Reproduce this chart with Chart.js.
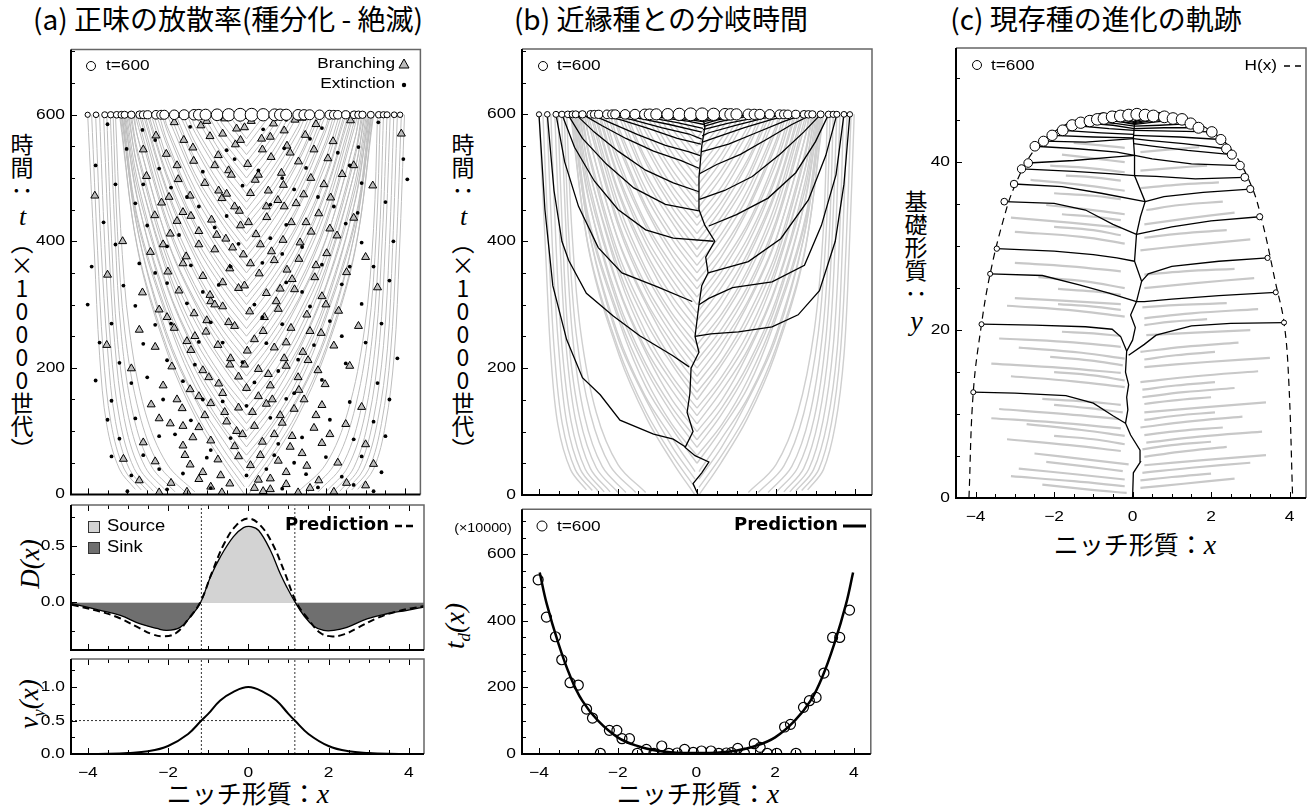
<!DOCTYPE html>
<html>
<head>
<meta charset="utf-8">
<script src="https://cdn.jsdelivr.net/npm/chart.js"></script>
<style>
body { margin: 0; background: #fff; width: 1315px; height: 809px; position: relative; overflow: hidden; }
canvas { position: absolute; }
.t { position: absolute; white-space: nowrap; color: #000; line-height: 1.2; }
.title { font-family: 'Noto Sans CJK JP', sans-serif; font-size: 28px; top: 2px; transform: translateX(-50%); }
.vlab { font-family: 'Noto Sans CJK JP', sans-serif; font-size: 23px; writing-mode: vertical-rl; text-orientation: upright; line-height: 1; }
.xlab { font-family: 'Noto Sans CJK JP', sans-serif; font-size: 25px; transform: translate(-50%, -50%); }
.m { font-family: 'Liberation Serif', serif; font-style: italic; }
.rot { font-family: 'Liberation Serif', serif; font-style: italic; font-size: 27px; transform: translate(-50%, -50%) rotate(-90deg); }
</style>
</head>
<body>
<div class="t title" style="left:228px">(a) 正味の放散率(種分化 - 絶滅)</div>
<div class="t title" style="left:661px">(b) 近縁種との分岐時間</div>
<div class="t title" style="left:1096px">(c) 現存種の進化の軌跡</div>

<div class="t vlab" style="left:9px;top:133px">時間：<span class="m" style="font-size:26px">t</span>（×10000世代）</div>
<div class="t vlab" style="left:450px;top:133px">時間：<span class="m" style="font-size:26px">t</span>（×10000世代）</div>
<div class="t vlab" style="left:902px;top:190px">基礎形質：<span class="m" style="font-size:28px">y</span></div>

<div class="t rot" style="left:30px;top:564px">D(x)</div>
<div class="t rot" style="left:31px;top:704px">v<sub style="font-size:17px">y</sub>(x)</div>
<div class="t rot" style="left:457px;top:626px">t<sub style="font-size:17px">d</sub>(x)</div>

<div class="t xlab" style="left:248px;top:794px">ニッチ形質：<span class="m" style="font-size:28px">x</span></div>
<div class="t xlab" style="left:698px;top:794px">ニッチ形質：<span class="m" style="font-size:28px">x</span></div>
<div class="t xlab" style="left:1135px;top:545px">ニッチ形質：<span class="m" style="font-size:28px">x</span></div>

<canvas id="a1"></canvas>
<canvas id="a2"></canvas>
<canvas id="a3"></canvas>
<canvas id="b1"></canvas>
<canvas id="b2"></canvas>
<canvas id="c1"></canvas>

<script>
// ---- tick values ----
const xTickLabels = [-4, -2, 0, 2, 4];
const xMinor = [-4, -3.5, -3, -2.5, -2, -1.5, -1, -0.5, 0, 0.5, 1, 1.5, 2, 2.5, 3, 3.5, 4];
const tTickLabels = [0, 200, 400, 600];
const tMinor = [0, 50, 100, 150, 200, 250, 300, 350, 400, 450, 500, 550, 600, 650, 700];
const dTickLabels = [0.0, 0.5];
const dMinor = [-0.25, 0, 0.25, 0.5, 0.75];
const vTickLabels = [0.0, 0.5, 1.0];
const vMinor = [0, 0.25, 0.5, 0.75, 1.0, 1.25];
const tdTickLabels = [0, 200, 400, 600];
const tdMinor = [0, 50, 100, 150, 200, 250, 300, 350, 400, 450, 500, 550, 600, 650, 700];
const yTickLabels = [0, 20, 40];
const yMinor = [0, 5, 10, 15, 20, 25, 30, 35, 40, 45, 50];

// ---- species alive at t=600 (panels a, b) ----
const survivorX = [-4.0, -3.79, -3.57, -3.42, -3.27, -3.15, -3.07, -2.9, -2.69, -2.6, -2.49, -2.28, -2.15, -2.07,
  -1.82, -1.57, -1.32, -1.2, -1.03, -0.74, -0.45, -0.16, 0.13, 0.42, 0.71, 0.85, 1.0, 1.3, 1.45, 1.59, 1.84,
  2.09, 2.2, 2.3, 2.5, 2.71, 2.82, 2.92, 3.13, 3.33, 3.45, 3.54, 3.72, 3.87];

// ---- gray lineages (x, t) used in panels a and b ----
const grayLeft = [
  [[-2.8, 8], [-3.2, 40], [-3.52, 110], [-3.7, 220], [-3.83, 380], [-4.0, 600]],
  [[-2.65, 7], [-3.08, 40], [-3.41, 112], [-3.61, 225], [-3.75, 385], [-3.9, 600]],
  [[-2.5, 6], [-2.95, 40], [-3.3, 115], [-3.5, 230], [-3.66, 390], [-3.8, 600]],
  [[-2.35, 5], [-2.83, 41], [-3.19, 117], [-3.42, 235], [-3.57, 395], [-3.7, 600]],
  [[-2.2, 5], [-2.7, 42], [-3.08, 120], [-3.32, 240], [-3.47, 400], [-3.6, 600]],
  [[-2.0, 4], [-2.55, 43], [-2.97, 122], [-3.25, 245], [-3.4, 405], [-3.52, 600]],
  [[-1.8, 4], [-2.4, 45], [-2.85, 125], [-3.15, 250], [-3.31, 410], [-3.43, 600]],
  [[-1.55, 4], [-2.2, 46], [-2.7, 128], [-3.06, 255], [-3.25, 415], [-3.36, 600]],
  [[-1.3, 4], [-2.0, 48], [-2.55, 130], [-2.95, 260], [-3.17, 420], [-3.3, 600]],
  [[-0.05, 0], [-0.6, 50], [-1.27, 120], [-1.97, 220], [-2.72, 380], [-3.2, 600]],
  [[-0.05, 12], [-0.62, 62], [-1.3, 132], [-2.0, 232], [-2.75, 392], [-3.18, 600]],
  [[-0.05, 25], [-0.62, 75], [-1.25, 145], [-1.99, 245], [-2.7, 405], [-3.16, 600]],
  [[-0.05, 37], [-0.6, 87], [-1.32, 157], [-2.02, 257], [-2.74, 417], [-3.14, 600]],
  [[0, 50], [-0.58, 100], [-1.29, 170], [-1.95, 270], [-2.74, 430], [-3.13, 600]],
  [[0, 62], [-0.64, 112], [-1.29, 182], [-1.98, 282], [-2.76, 442], [-3.1, 600]],
  [[0, 75], [-0.6, 125], [-1.27, 195], [-1.98, 295], [-2.7, 455], [-3.09, 600]],
  [[0, 87], [-0.62, 137], [-1.3, 207], [-2.0, 307], [-2.75, 467], [-3.07, 600]],
  [[0, 100], [-0.63, 150], [-1.26, 220], [-1.96, 320], [-2.73, 480], [-3.05, 600]],
  [[0, 112], [-0.6, 162], [-1.31, 232], [-2.01, 332], [-2.73, 492], [-3.02, 600]],
  [[0, 125], [-0.6, 175], [-1.3, 245], [-1.97, 345], [-2.7, 505], [-2.99, 600]],
  [[0, 137], [-0.63, 187], [-1.3, 257], [-1.99, 357], [-2.75, 517], [-2.96, 600]],
  [[0, 150], [-0.57, 200], [-1.27, 270], [-1.99, 370], [-2.72, 530], [-2.93, 600]],
  [[0, 162], [-0.62, 212], [-1.28, 282], [-2.0, 382], [-2.74, 542], [-2.9, 600]],
  [[0, 175], [-0.6, 225], [-1.24, 295], [-1.96, 395], [-2.7, 555], [-2.86, 600]],
  [[0, 187], [-0.6, 237], [-1.3, 307], [-2.02, 407], [-2.75, 567], [-2.83, 600]],
  [[0, 200], [-0.61, 250], [-1.28, 320], [-1.97, 420], [-2.72, 580], [-2.8, 600]],
  [[0, 212], [-0.62, 262], [-1.31, 332], [-2.0, 432], [-2.76, 600]],
  [[0, 225], [-0.6, 275], [-1.27, 345], [-1.98, 445], [-2.7, 600]],
  [[0, 237], [-0.64, 287], [-1.3, 357], [-1.98, 457], [-2.66, 600]],
  [[0, 250], [-0.62, 300], [-1.26, 370], [-1.96, 470], [-2.6, 600]],
  [[0, 262], [-0.62, 312], [-1.29, 382], [-2.0, 482], [-2.56, 600]],
  [[0, 275], [-0.59, 325], [-1.28, 395], [-1.97, 495], [-2.5, 600]],
  [[0, 287], [-0.6, 337], [-1.3, 407], [-2.01, 507], [-2.46, 600]],
  [[0, 300], [-0.6, 350], [-1.27, 420], [-1.99, 520], [-2.4, 600]],
  [[0, 312], [-0.62, 362], [-1.32, 432], [-2.0, 532], [-2.34, 600]],
  [[0, 325], [-0.61, 375], [-1.25, 445], [-1.96, 545], [-2.27, 600]],
  [[0, 337], [-0.63, 387], [-1.3, 457], [-1.99, 557], [-2.2, 600]],
  [[0, 350], [-0.6, 400], [-1.28, 470], [-1.97, 570], [-2.13, 600]],
  [[0, 362], [-0.62, 412], [-1.29, 482], [-2.0, 582], [-2.07, 600]],
  [[0, 375], [-0.58, 425], [-1.27, 495], [-2.0, 600]],
  [[0, 387], [-0.6, 437], [-1.3, 507], [-1.92, 600]],
  [[0, 400], [-0.6, 450], [-1.26, 520], [-1.85, 600]],
  [[0, 412], [-0.62, 462], [-1.31, 532], [-1.78, 600]],
  [[0, 425], [-0.62, 475], [-1.27, 545], [-1.68, 600]],
  [[0, 437], [-0.63, 487], [-1.3, 557], [-1.6, 600]],
  [[0, 450], [-0.6, 500], [-1.28, 570], [-1.5, 600]],
  [[0, 462], [-0.62, 512], [-1.3, 582], [-1.4, 600]],
  [[0, 475], [-0.6, 525], [-1.3, 600]],
  [[0, 487], [-0.61, 537], [-1.2, 600]],
  [[0, 500], [-0.61, 550], [-1.1, 600]],
  [[0, 512], [-0.62, 562], [-0.97, 600]],
  [[0, 525], [-0.6, 575], [-0.85, 600]],
  [[0, 537], [-0.62, 587], [-0.72, 600]],
  [[0, 550], [-0.6, 600]],
  [[0, 562], [-0.45, 600]],
  [[0, 575], [-0.3, 600]]
];
const grayRight = [
  [[2.8, 8], [3.2, 40], [3.5, 110], [3.72, 220], [3.85, 380], [3.98, 600]],
  [[2.65, 7], [3.08, 40], [3.4, 112], [3.63, 225], [3.77, 385], [3.9, 600]],
  [[2.5, 6], [2.95, 40], [3.3, 115], [3.55, 230], [3.68, 390], [3.8, 600]],
  [[2.35, 5], [2.83, 41], [3.19, 117], [3.45, 235], [3.6, 395], [3.71, 600]],
  [[2.2, 5], [2.7, 42], [3.08, 120], [3.35, 240], [3.5, 400], [3.62, 600]],
  [[2.0, 4], [2.55, 43], [2.97, 122], [3.26, 245], [3.42, 405], [3.54, 600]],
  [[1.8, 4], [2.4, 45], [2.85, 125], [3.17, 250], [3.35, 410], [3.45, 600]],
  [[1.55, 4], [2.2, 46], [2.7, 128], [3.07, 255], [3.27, 415], [3.37, 600]],
  [[1.3, 4], [2.0, 48], [2.55, 130], [2.97, 260], [3.2, 420], [3.3, 600]],
  [[0.05, 0], [0.6, 50], [1.27, 120], [1.97, 220], [2.72, 380], [3.2, 600]],
  [[0.05, 12], [0.62, 62], [1.3, 132], [2.0, 232], [2.75, 392], [3.18, 600]],
  [[0.05, 25], [0.62, 75], [1.25, 145], [1.99, 245], [2.7, 405], [3.16, 600]],
  [[0.05, 37], [0.6, 87], [1.32, 157], [2.02, 257], [2.74, 417], [3.14, 600]],
  [[0, 50], [0.58, 100], [1.29, 170], [1.95, 270], [2.74, 430], [3.13, 600]],
  [[0, 62], [0.64, 112], [1.29, 182], [1.98, 282], [2.76, 442], [3.1, 600]],
  [[0, 75], [0.6, 125], [1.27, 195], [1.98, 295], [2.7, 455], [3.09, 600]],
  [[0, 87], [0.62, 137], [1.3, 207], [2.0, 307], [2.75, 467], [3.07, 600]],
  [[0, 100], [0.63, 150], [1.26, 220], [1.96, 320], [2.73, 480], [3.05, 600]],
  [[0, 112], [0.6, 162], [1.31, 232], [2.01, 332], [2.73, 492], [3.02, 600]],
  [[0, 125], [0.6, 175], [1.3, 245], [1.97, 345], [2.7, 505], [2.99, 600]],
  [[0, 137], [0.63, 187], [1.3, 257], [1.99, 357], [2.75, 517], [2.96, 600]],
  [[0, 150], [0.57, 200], [1.27, 270], [1.99, 370], [2.72, 530], [2.93, 600]],
  [[0, 162], [0.62, 212], [1.28, 282], [2.0, 382], [2.74, 542], [2.9, 600]],
  [[0, 175], [0.6, 225], [1.24, 295], [1.96, 395], [2.7, 555], [2.86, 600]],
  [[0, 187], [0.6, 237], [1.3, 307], [2.02, 407], [2.75, 567], [2.83, 600]],
  [[0, 200], [0.61, 250], [1.28, 320], [1.97, 420], [2.72, 580], [2.8, 600]],
  [[0, 212], [0.62, 262], [1.31, 332], [2.0, 432], [2.76, 600]],
  [[0, 225], [0.6, 275], [1.27, 345], [1.98, 445], [2.7, 600]],
  [[0, 237], [0.64, 287], [1.3, 357], [1.98, 457], [2.66, 600]],
  [[0, 250], [0.62, 300], [1.26, 370], [1.96, 470], [2.6, 600]],
  [[0, 262], [0.62, 312], [1.29, 382], [2.0, 482], [2.56, 600]],
  [[0, 275], [0.59, 325], [1.28, 395], [1.97, 495], [2.5, 600]],
  [[0, 287], [0.6, 337], [1.3, 407], [2.01, 507], [2.46, 600]],
  [[0, 300], [0.6, 350], [1.27, 420], [1.99, 520], [2.4, 600]],
  [[0, 312], [0.62, 362], [1.32, 432], [2.0, 532], [2.34, 600]],
  [[0, 325], [0.61, 375], [1.25, 445], [1.96, 545], [2.27, 600]],
  [[0, 337], [0.63, 387], [1.3, 457], [1.99, 557], [2.2, 600]],
  [[0, 350], [0.6, 400], [1.28, 470], [1.97, 570], [2.13, 600]],
  [[0, 362], [0.62, 412], [1.29, 482], [2.0, 582], [2.07, 600]],
  [[0, 375], [0.58, 425], [1.27, 495], [2.0, 600]],
  [[0, 387], [0.6, 437], [1.3, 507], [1.92, 600]],
  [[0, 400], [0.6, 450], [1.26, 520], [1.85, 600]],
  [[0, 412], [0.62, 462], [1.31, 532], [1.78, 600]],
  [[0, 425], [0.62, 475], [1.27, 545], [1.68, 600]],
  [[0, 437], [0.63, 487], [1.3, 557], [1.6, 600]],
  [[0, 450], [0.6, 500], [1.28, 570], [1.5, 600]],
  [[0, 462], [0.62, 512], [1.3, 582], [1.4, 600]],
  [[0, 475], [0.6, 525], [1.3, 600]],
  [[0, 487], [0.61, 537], [1.2, 600]],
  [[0, 500], [0.61, 550], [1.1, 600]],
  [[0, 512], [0.62, 562], [0.97, 600]],
  [[0, 525], [0.6, 575], [0.85, 600]],
  [[0, 537], [0.62, 587], [0.72, 600]],
  [[0, 550], [0.6, 600]],
  [[0, 562], [0.45, 600]]
];

// ---- branching and extinction events (panel a) ----
const branchPts = [
  [-1.82, 588], [-1.15, 583], [-0.55, 594], [0.12, 590], [0.68, 586], [1.22, 592], [1.75, 585], [2.62, 591],
  [-2.28, 567], [-1.58, 560], [-0.92, 566], [-0.28, 553], [0.38, 562], [1.02, 551], [1.48, 568], [2.18, 558], [3.9, 570],
  [-2.02, 538], [-1.33, 527], [-0.71, 536], [0.03, 522], [0.62, 533], [1.31, 526], [2.05, 531], [-0.45, 512], [0.88, 508],
  [-2.52, 503], [-1.72, 498], [-1.05, 492], [-0.38, 505], [0.22, 497], [0.93, 489], [1.62, 500], [2.41, 506], [3.18, 488],
  [-1.42, 472], [-0.62, 468], [0.1, 476], [0.79, 465], [1.44, 474], [2.12, 469], [-2.14, 461], [-3.82, 472],
  [-2.31, 441], [-1.6, 446], [-0.88, 434], [-0.18, 448], [0.51, 438], [1.13, 430], [1.82, 444], [2.7, 437],
  [-1.92, 412], [-1.2, 416], [-0.52, 404], [0.24, 411], [0.92, 402], [1.63, 415], [2.28, 409], [-3.12, 400],
  [-2.42, 383], [-1.52, 376], [-0.8, 387], [-0.08, 379], [0.63, 384], [1.32, 372], [2.02, 381], [3.0, 375],
  [-1.98, 352], [-1.1, 345], [-0.42, 357], [0.32, 349], [1.02, 355], [1.72, 343], [2.52, 351], [-3.5, 347],
  [-1.7, 322], [-0.92, 315], [-0.2, 326], [0.5, 318], [1.21, 324], [1.9, 313], [-2.62, 319], [3.3, 327],
  [-2.2, 292], [-1.32, 286], [-0.6, 297], [0.08, 289], [0.8, 293], [1.52, 284], [2.32, 290],
  [-1.82, 263], [-1.02, 257], [-0.3, 266], [0.42, 258], [1.12, 263], [1.88, 255], [-2.7, 260], [2.82, 266],
  [-2.3, 233], [-1.4, 228], [-0.72, 236], [0.02, 227], [0.7, 232], [1.42, 225], [2.2, 235], [-3.52, 236],
  [-1.88, 202], [-1.1, 196], [-0.42, 205], [0.3, 198], [1.0, 203], [1.8, 196], [-2.9, 199], [2.6, 203],
  [-2.1, 172], [-1.42, 166], [-0.7, 175], [0.0, 168], [0.6, 172], [1.32, 165], [1.98, 174],
  [-2.4, 142], [-1.62, 136], [-0.9, 144], [-0.2, 137], [0.5, 143], [1.2, 135], [1.9, 141], [2.9, 138],
  [-1.92, 112], [-1.2, 106], [-0.5, 115], [0.2, 108], [0.9, 113], [1.7, 105], [2.5, 111],
  [-2.6, 82], [-1.6, 77], [-0.9, 85], [-0.3, 76], [0.4, 83], [1.1, 75], [1.9, 81], [3.0, 79],
  [-2.3, 52], [-1.42, 47], [-0.72, 55], [0.1, 46], [0.8, 53], [1.52, 45], [2.3, 50], [-3.1, 56], [3.2, 48],
  [-2.7, 22], [-1.9, 18], [-1.2, 24], [-0.42, 17], [0.3, 23], [1.0, 16], [1.82, 22], [2.52, 18], [3.0, 14],
  [-1.5, 4], [-0.62, 3], [0.42, 5], [1.3, 3], [2.2, 4], [-2.2, 3],
  [-0.25, 578], [0.4, 545], [-0.8, 520], [0.55, 480], [-0.3, 455], [1.5, 430], [-1.2, 395], [0.1, 365],
  [-0.6, 335], [0.75, 305], [-1.0, 275], [0.2, 245], [-0.4, 215], [1.3, 185], [-1.2, 155], [0.85, 125],
  [-0.1, 95], [1.4, 65], [-1.1, 35], [0.6, 8], [-0.15, 425], [0.35, 395], [-0.9, 305], [1.6, 258],
  [-1.6, 108], [0.65, 150], [-0.05, 330], [1.1, 540], [-1.35, 548], [0.95, 455], [-1.75, 432], [1.75, 362],
  [-1.5, 242], [1.55, 212], [-0.2, 186], [0.35, 62], [-0.55, 130], [1.15, 92],
  [-1.0, 590], [0.95, 575], [-0.15, 560], [1.7, 545], [-1.75, 520], [0.3, 505], [-0.7, 480], [1.25, 460],
  [-1.4, 440], [0.05, 430], [-0.35, 390], [0.7, 370], [-1.6, 365], [1.15, 340], [-0.8, 300], [0.45, 280],
  [-1.3, 250], [1.0, 240], [-0.05, 205], [-0.95, 185], [0.55, 190], [-1.75, 150], [1.45, 150], [0.15, 130],
  [-1.05, 125], [0.7, 95], [-1.35, 90], [-0.2, 60], [1.0, 35], [-0.65, 30], [0.2, 10], [-0.9, 12], [1.6, 10],
  [-2.0, 280], [2.0, 300], [-2.1, 395], [2.1, 420], [-1.95, 470], [1.95, 490], [-0.5, 475], [0.5, 455],
  [-0.75, 410], [1.35, 398], [0.85, 325], [-0.45, 272], [0.95, 215], [-0.6, 160], [0.3, 155], [-0.25, 100],
  [0.6, 25], [-1.55, 62], [1.75, 125], [-2.2, 120], [2.1, 95], [-0.05, 580], [0.6, 565], [-0.6, 570],
  [1.4, 595], [-2.6, 545], [2.7, 520]
];
const extinctPts = [
  [-3.5, 585], [-2.62, 576], [-1.42, 581], [0.42, 577], [1.9, 579], [3.32, 588], [-3.02, 546], [-0.5, 544],
  [0.95, 547], [2.82, 549], [4.05, 498], [3.95, 530], [-3.8, 520], [-2.2, 515], [-1.1, 510], [0.3, 512],
  [1.5, 516], [2.6, 520], [-3.3, 490], [-1.9, 485], [-0.1, 488], [1.2, 482], [2.9, 492], [-2.8, 460],
  [-1.2, 455], [0.6, 458], [2.2, 455], [3.5, 462], [-3.6, 430], [-2.5, 425], [-0.8, 422], [1.0, 426],
  [2.5, 428], [-3.3, 395], [-2.0, 392], [-0.2, 396], [1.4, 391], [2.9, 398], [3.7, 400], [-3.9, 360],
  [-2.7, 365], [-1.4, 362], [0.4, 366], [1.9, 363], [3.2, 360], [-3.1, 330], [-2.0, 334], [-0.7, 331],
  [1.0, 335], [2.4, 332], [3.6, 338], [-4.0, 300], [-2.8, 298], [-1.5, 302], [0.2, 300], [1.6, 297],
  [2.9, 301], [-3.4, 270], [-2.3, 268], [-0.9, 272], [0.9, 269], [2.1, 274], [3.4, 270], [-3.7, 240],
  [-2.6, 238], [-1.2, 241], [0.5, 239], [1.7, 236], [3.0, 240], [3.8, 215], [-3.2, 208], [-2.0, 212],
  [-0.1, 209], [1.3, 213], [2.5, 207], [-3.8, 180], [-2.9, 176], [-1.6, 179], [0.2, 177], [1.9, 181],
  [3.3, 176], [-3.4, 148], [-2.1, 150], [-0.6, 147], [1.0, 151], [2.6, 146], [3.6, 150], [-3.5, 118],
  [-2.8, 120], [-1.4, 117], [0.6, 121], [2.1, 118], [3.2, 115], [-3.2, 88], [-2.2, 92], [-0.4, 89],
  [1.4, 90], [2.7, 87], [3.5, 92], [-3.4, 60], [-2.6, 62], [-1.0, 58], [0.7, 62], [2.0, 59], [2.9, 60],
  [-2.9, 30], [-1.6, 33], [0.0, 30], [1.5, 32], [2.4, 28], [3.4, 35], [-2.0, 8], [-0.9, 10], [0.9, 9], [1.8, 11],
  [-1.7, 598], [0.0, 596], [1.0, 592], [-2.3, 560], [1.6, 562], [-0.3, 530], [2.3, 540], [-1.5, 470],
  [0.9, 500], [-2.6, 490], [1.8, 470], [-0.5, 440], [2.8, 445], [-1.7, 410], [0.6, 405], [-2.3, 350],
  [0.9, 380], [-0.4, 360], [1.4, 320], [-1.1, 320], [2.6, 360], [-1.9, 270], [0.4, 280], [-0.6, 240],
  [2.4, 250], [-1.3, 205], [0.8, 195], [-2.5, 185], [1.2, 160], [-1.1, 150], [0.0, 140], [-1.8, 95],
  [0.8, 80], [-0.9, 70], [1.2, 50], [-2.2, 40], [2.7, 15], [-3.0, 5], [3.2, 5], [0.5, 40]
];

// ---- net diversification D(x) and v_y(x) ----
const dX = [-4.4, -3.69, -3.19, -2.69, -2.28, -2.03, -1.7, -1.45, -1.2, -0.95, -0.7, -0.37, -0.12, 0.07, 0.26,
  0.55, 0.8, 0.96, 1.17, 1.38, 1.63, 1.88, 2.13, 2.46, 2.96, 3.46, 3.96, 4.4];
const dVal = [-0.01, -0.07, -0.115, -0.19, -0.23, -0.247, -0.22, -0.13, -0.01, 0.22, 0.4, 0.58, 0.66, 0.67, 0.635,
  0.46, 0.25, 0.135, 0.0, -0.115, -0.21, -0.247, -0.247, -0.22, -0.145, -0.1, -0.07, -0.04];
const dPredX = [-4.4, -3.7, -3.2, -2.7, -2.4, -2.1, -1.8, -1.5, -1.2, -0.9, -0.6, -0.3, 0, 0.3, 0.6, 0.9, 1.2,
  1.5, 1.8, 2.1, 2.4, 2.7, 3.2, 3.7, 4.4];
const dPred = [-0.02, -0.08, -0.14, -0.23, -0.28, -0.3, -0.27, -0.15, 0.0, 0.27, 0.52, 0.68, 0.74, 0.68, 0.52, 0.27,
  0.0, -0.15, -0.27, -0.3, -0.28, -0.23, -0.14, -0.08, -0.03];
const crossX = [-1.17, 1.16];
const vX = [-4.4, -3.5, -3.0, -2.5, -2.0, -1.5, -1.17, -1.0, -0.7, -0.37, 0, 0.37, 0.7, 1.0, 1.16, 1.5, 2.0, 2.5, 3.0, 3.5, 4.4];
const vVal = [0.0, 0.005, 0.015, 0.04, 0.12, 0.3, 0.5, 0.6, 0.8, 0.93, 1.0, 0.93, 0.8, 0.6, 0.5, 0.3, 0.12, 0.04, 0.015, 0.005, 0.0];

// ---- phylogeny of survivors (panel b) ----
const trunkB = [[0.03, 0], [-0.1, 18], [0.12, 35], [0.3, 52], [-0.05, 62], [-0.3, 75], [-0.1, 100], [-0.25, 130],
  [-0.18, 160], [-0.15, 200], [0.05, 225], [-0.05, 250], [0.05, 300], [0.12, 330], [0.28, 350], [0.22, 375],
  [0.45, 400], [0.2, 425], [0.05, 450], [0.05, 500], [0.12, 550], [0.2, 580], [0.13, 600]];
const lineagesB = [
  [[-4.0, 600], [-3.85, 450], [-3.65, 330], [-3.3, 245], [-2.9, 185], [-2.45, 158], [-1.95, 118], [-1.1, 96], [-0.6, 88], [-0.3, 76]],
  [[-3.79, 600], [-3.62, 480], [-3.42, 400], [-3.25, 370], [-2.8, 318], [-2.12, 282], [-1.45, 251], [-0.62, 220], [-0.2, 202]],
  [[-3.57, 600], [-3.35, 525], [-3.0, 455], [-2.5, 390], [-1.9, 350], [-1.0, 328], [-0.12, 305]],
  [[-3.42, 600], [-3.1, 548], [-2.6, 495], [-2.0, 450], [-1.3, 418], [-0.6, 405], [0.42, 400]],
  [[-3.27, 600], [-2.9, 562], [-2.3, 522], [-1.6, 484], [-0.8, 458], [0.05, 448]],
  [[-3.07, 600], [-2.6, 572], [-2.0, 542], [-1.3, 512], [-0.6, 492], [0.05, 478]],
  [[-2.9, 600], [-2.4, 582], [-1.8, 562], [-1.1, 542], [-0.4, 527], [0.05, 515]],
  [[-2.69, 600], [-2.2, 587], [-1.5, 568], [-0.8, 551], [-0.2, 541], [0.08, 535]],
  [[-2.49, 600], [-1.9, 591], [-1.2, 577], [-0.5, 562], [0.1, 553]],
  [[-2.28, 600], [-1.6, 591], [-0.9, 579], [-0.2, 569], [0.12, 561]],
  [[-2.07, 600], [-1.4, 593], [-0.7, 584], [0.12, 572]],
  [[-1.82, 600], [-1.2, 595], [-0.5, 587], [0.15, 578]],
  [[-1.57, 600], [-0.9, 595], [-0.2, 589], [0.18, 584]],
  [[-1.32, 600], [-0.6, 595], [0.2, 588]],
  [[-1.03, 600], [-0.4, 596], [0.2, 590]],
  [[-0.74, 600], [-0.2, 596], [0.2, 592]],
  [[-0.45, 600], [0.2, 594]],
  [[-0.16, 600], [0.15, 596]],
  [[3.87, 600], [3.72, 490], [3.5, 400], [3.1, 322], [2.56, 284], [1.9, 265], [1.05, 257], [0.35, 254], [-0.05, 250]],
  [[3.72, 600], [3.52, 505], [3.15, 425], [2.72, 362], [1.9, 336], [0.9, 327], [0.3, 310], [0.05, 300]],
  [[3.54, 600], [3.26, 535], [2.82, 465], [2.12, 404], [1.3, 368], [0.28, 350]],
  [[3.33, 600], [3.0, 557], [2.5, 508], [1.8, 468], [1.0, 442], [0.3, 424]],
  [[3.13, 600], [2.7, 572], [2.1, 537], [1.4, 502], [0.7, 480], [0.06, 466]],
  [[2.92, 600], [2.4, 584], [1.8, 562], [1.1, 537], [0.5, 521], [0.05, 506]],
  [[2.71, 600], [2.2, 589], [1.5, 571], [0.8, 553], [0.1, 541]],
  [[2.5, 600], [1.9, 592], [1.2, 579], [0.5, 564], [0.12, 556]],
  [[2.3, 600], [1.7, 594], [1.0, 583], [0.3, 571], [0.13, 566]],
  [[2.09, 600], [1.5, 595], [0.8, 586], [0.15, 576]],
  [[1.84, 600], [1.2, 596], [0.6, 589], [0.17, 581]],
  [[1.59, 600], [1.0, 597], [0.5, 591], [0.18, 585]],
  [[1.3, 600], [0.8, 597], [0.2, 589]],
  [[1.0, 600], [0.5, 597], [0.2, 591]],
  [[0.71, 600], [0.2, 595]],
  [[0.42, 600], [0.2, 597]]
];

// ---- divergence time t_d(x) at t=600 ----
const tdX = [-4.02, -3.81, -3.58, -3.42, -3.21, -3.0, -2.79, -2.64, -2.44, -2.21, -2.02, -1.89, -1.7, -1.5, -1.27,
  -1.08, -0.88, -0.7, -0.49, -0.3, -0.08, 0.13, 0.37, 0.57, 0.76, 0.89, 1.05, 1.22, 1.47, 1.62, 1.8, 2.04, 2.24,
  2.39, 2.53, 2.72, 2.87, 3.04, 3.24, 3.46, 3.64, 3.89];
const tdVal = [523, 411, 352, 283, 214, 207, 135, 108, 2, 71, 71, 46, 46, 2, 14, 2, 24, 2, 3, 14, 5, 9, 9, 2, 3,
  4, 17, 2, 31, 20, 2, 2, 81, 89, 2, 140, 160, 170, 243, 350, 350, 432];
const tdPredX = [-3.98, -3.8, -3.5, -3.2, -2.9, -2.5, -2.0, -1.5, -1.0, -0.5, 0, 0.5, 1.0, 1.5, 2.0, 2.5, 2.9, 3.2, 3.5, 3.8, 3.98];
const tdPred = [545, 450, 330, 232, 160, 100, 50, 24, 10, 4, 3, 4, 10, 24, 50, 100, 160, 232, 330, 450, 545];

// ---- panel c: survivors in (x, y) ----
const cTips = [[-4.06, 12.6], [-3.85, 20.7], [-3.63, 26.7], [-3.46, 29.7], [-3.27, 35.3], [-3.02, 37.4],
  [-2.83, 39.2], [-2.66, 39.9], [-2.49, 41.9], [-2.27, 42.5], [-2.05, 43.2], [-1.78, 43.8], [-1.54, 44.4],
  [-1.32, 44.7], [-1.09, 44.9], [-0.9, 45.1], [-0.73, 45.2], [-0.52, 45.4], [-0.31, 45.5], [-0.1, 45.6],
  [0.11, 45.7], [0.32, 45.6], [0.53, 45.5], [0.81, 45.4], [1.03, 45.2], [1.26, 45.1], [1.48, 44.6], [1.68, 44.1],
  [2.02, 43.6], [2.25, 42.7], [2.39, 41.6], [2.53, 40.9], [2.74, 39.6], [2.86, 38.2], [3.0, 36.8], [3.24, 33.5],
  [3.44, 28.6], [3.65, 24.5], [3.86, 20.9]];
const cTrunk = [[0, 0], [0.02, 3], [0.2, 4.3], [0.19, 5.7], [-0.05, 7.5], [-0.18, 8.9], [-0.12, 10.5], [-0.15, 12],
  [-0.1, 13.5], [-0.18, 15], [-0.15, 17.5], [0.0, 18.8], [0.07, 20.3], [-0.05, 21.8], [0.1, 23.4], [0.23, 25.8],
  [0.05, 28.2], [0.1, 31.4], [0.2, 33.5], [0.32, 35.3], [0.05, 38.4], [0.05, 40.8], [0.02, 42.8], [0.05, 44.6], [0.11, 45.7]];
const cLineages = [
  [[-4.06, 12.6], [-3.0, 12.5], [-1.7, 12.2], [-1.0, 11.3], [-0.5, 9.8], [-0.18, 8.9]],
  [[-3.85, 20.7], [-2.5, 20.6], [-1.2, 20.4], [-0.52, 20.1], [-0.3, 19.2], [-0.15, 17.5]],
  [[-3.63, 26.7], [-2.3, 26.5], [-1.36, 25.4], [-0.6, 24.4], [0.1, 23.4]],
  [[-3.46, 29.7], [-2.0, 29.4], [-1.0, 29.0], [-0.4, 28.6], [0.05, 28.2]],
  [[-3.27, 35.3], [-2.0, 35.1], [-1.2, 34.3], [-0.5, 32.6], [0.1, 31.4]],
  [[-3.02, 37.4], [-1.8, 37.1], [-0.8, 36.3], [0.32, 35.3]],
  [[-2.83, 39.2], [-1.5, 38.9], [-0.5, 38.6], [0.05, 38.4]],
  [[-2.66, 39.9], [-1.5, 40.2], [-0.5, 40.6], [0.05, 40.8]],
  [[-2.49, 41.9], [-1.4, 41.6], [-0.4, 41.2], [0.05, 40.8]],
  [[-2.27, 42.5], [-1.2, 42.4], [0.02, 42.8]],
  [[-2.05, 43.2], [-1.0, 43.0], [0.02, 42.9]],
  [[-1.78, 43.8], [-0.8, 43.5], [0.03, 43.3]],
  [[-1.54, 44.4], [-0.6, 44.0], [0.04, 43.8]],
  [[-1.32, 44.7], [-0.5, 44.4], [0.04, 44.0]],
  [[-1.09, 44.9], [-0.4, 44.6], [0.05, 44.3]],
  [[-0.9, 45.1], [-0.3, 44.8], [0.05, 44.5]],
  [[-0.73, 45.2], [0.05, 44.6]],
  [[-0.52, 45.4], [0.05, 44.7]],
  [[-0.31, 45.5], [0.05, 44.8]],
  [[3.86, 20.9], [2.5, 20.8], [1.5, 20.5], [0.6, 19.4], [0.3, 18.3], [-0.1, 17.0]],
  [[3.65, 24.5], [2.2, 24.1], [1.0, 23.7], [0.3, 23.4], [0.1, 23.4]],
  [[3.44, 28.6], [2.2, 28.2], [1.0, 27.6], [0.4, 26.7], [0.23, 25.8]],
  [[3.24, 33.5], [2.0, 33.0], [1.0, 32.3], [0.4, 31.7], [0.1, 31.4]],
  [[3.0, 36.8], [1.8, 36.4], [0.8, 35.9], [0.32, 35.3]],
  [[2.86, 38.2], [1.6, 38.0], [0.6, 38.3], [0.05, 38.4]],
  [[2.74, 39.6], [1.5, 39.8], [0.5, 40.4], [0.05, 40.8]],
  [[2.53, 40.9], [1.4, 41.4], [0.5, 41.9], [0.03, 42.2]],
  [[2.39, 41.6], [1.3, 42.2], [0.4, 42.6], [0.02, 42.8]],
  [[2.25, 42.7], [1.2, 43.0], [0.03, 43.2]],
  [[2.02, 43.6], [1.0, 43.7], [0.04, 43.8]],
  [[1.68, 44.1], [0.8, 44.1], [0.04, 44.0]],
  [[1.48, 44.6], [0.7, 44.4], [0.05, 44.3]],
  [[1.26, 45.1], [0.6, 44.8], [0.05, 44.5]],
  [[1.03, 45.2], [0.4, 44.9], [0.05, 44.6]],
  [[0.81, 45.4], [0.05, 44.7]],
  [[0.53, 45.5], [0.05, 44.8]],
  [[0.32, 45.6], [0.05, 44.9]]
];
const cGray = [
  [[-0.15, 0.6], [-1.1, 1.0], [-2.3, 1.6]], [[-0.2, 1.4], [-1.5, 2.0], [-3.1, 2.6]],
  [[-0.2, 2.2], [-1.4, 2.8], [-2.9, 3.5]], [[-0.25, 3.2], [-1.1, 3.7], [-2.2, 4.3]],
  [[-0.1, 4.0], [-1.2, 4.6], [-2.5, 5.3]], [[-0.3, 5.6], [-1.6, 6.3], [-3.2, 7.0]],
  [[-0.2, 6.4], [-1.0, 7.0], [-2.0, 7.4]], [[-0.2, 7.4], [-1.3, 8.1], [-2.7, 8.8]],
  [[-0.3, 8.3], [-2.0, 9.0], [-3.6, 9.5]], [[-0.35, 9.4], [-1.7, 10.0], [-3.4, 10.6]],
  [[-0.25, 10.2], [-1.1, 10.7], [-2.0, 11.1]], [[-0.3, 11.1], [-1.2, 11.5], [-2.3, 11.8]],
  [[-0.2, 13.2], [-1.5, 13.9], [-3.1, 14.5]], [[-0.2, 14.0], [-1.0, 14.6], [-2.0, 15.0]],
  [[-0.3, 14.9], [-1.8, 15.5], [-3.6, 16.0]], [[-0.25, 15.8], [-1.1, 16.4], [-2.1, 16.8]],
  [[-0.2, 16.6], [-1.3, 17.3], [-2.9, 17.9]], [[-0.3, 18.0], [-1.7, 18.6], [-3.4, 19.0]],
  [[-0.3, 19.3], [-1.0, 19.6], [-1.8, 19.8]], [[-0.2, 21.6], [-1.4, 22.3], [-3.2, 22.9]],
  [[-0.3, 22.4], [-1.0, 22.8], [-1.9, 23.1]], [[-0.3, 23.1], [-1.8, 23.5], [-3.0, 23.8]],
  [[-0.3, 24.2], [-1.0, 24.6], [-1.9, 24.9]], [[-0.2, 25.0], [-1.2, 25.8], [-2.4, 26.3]],
  [[-0.3, 27.0], [-1.6, 27.6], [-3.0, 28.0]], [[-0.2, 30.3], [-1.3, 31.1], [-3.0, 31.7]],
  [[-0.3, 31.3], [-1.0, 31.9], [-2.0, 32.3]], [[-0.3, 32.2], [-1.6, 32.8], [-3.1, 33.4]],
  [[-0.3, 33.1], [-1.0, 33.5], [-1.8, 33.8]], [[-0.2, 33.8], [-1.2, 34.4], [-2.2, 34.9]],
  [[-0.3, 35.6], [-1.0, 36.0], [-2.0, 36.3]], [[-0.2, 36.6], [-1.3, 37.3], [-2.6, 37.9]],
  [[-0.3, 37.8], [-1.0, 38.2], [-1.7, 38.4]], [[-0.2, 38.8], [-1.1, 39.3], [-2.1, 39.6]],
  [[-0.2, 40.0], [-0.9, 40.4], [-1.8, 40.9]], [[-0.2, 41.7], [-0.8, 42.0], [-1.5, 42.3]],
  [[0.2, 1.2], [1.3, 1.7], [2.6, 2.3]], [[0.2, 2.1], [1.0, 2.5], [2.0, 2.9]],
  [[0.25, 3.0], [1.5, 3.6], [3.0, 4.2]], [[0.3, 3.9], [1.8, 4.5], [3.4, 5.1]],
  [[0.3, 4.9], [1.2, 5.5], [2.4, 6.1]], [[0.25, 5.8], [1.0, 6.3], [2.0, 6.7]],
  [[0.35, 6.6], [1.7, 7.3], [3.3, 7.9]], [[0.3, 7.5], [1.2, 8.0], [2.3, 8.4]],
  [[0.2, 8.4], [1.4, 9.1], [2.8, 9.7]], [[0.3, 9.3], [1.1, 9.8], [2.1, 10.2]],
  [[0.3, 10.2], [1.8, 10.8], [3.4, 11.4]], [[0.3, 11.2], [1.0, 11.6], [2.0, 12.0]],
  [[0.25, 12.0], [1.3, 12.6], [2.6, 13.1]], [[0.25, 12.9], [1.1, 13.4], [2.1, 13.8]],
  [[0.2, 13.8], [1.6, 14.5], [3.2, 15.1]], [[0.3, 15.6], [1.9, 16.2], [3.5, 16.7]],
  [[0.3, 16.5], [1.1, 17.0], [2.1, 17.4]], [[0.2, 17.4], [1.3, 18.0], [2.7, 18.5]],
  [[0.35, 19.4], [1.6, 19.7], [3.0, 20.0]], [[0.3, 20.6], [1.0, 21.0], [1.9, 21.3]],
  [[0.3, 21.4], [1.5, 22.0], [3.2, 22.5]], [[0.25, 22.7], [1.2, 23.0], [2.4, 23.2]],
  [[0.3, 25.0], [1.6, 25.6], [3.1, 26.2]], [[0.3, 26.6], [1.3, 27.0], [2.6, 27.3]],
  [[0.2, 29.5], [1.4, 30.1], [3.0, 30.8]], [[0.3, 31.0], [1.2, 31.5], [2.4, 31.9]],
  [[0.3, 32.6], [1.4, 33.3], [2.6, 34.0]], [[0.35, 34.3], [1.2, 34.9], [2.3, 35.3]],
  [[0.2, 36.9], [1.1, 37.3], [2.2, 37.6]], [[0.2, 39.0], [1.0, 39.3], [1.9, 39.6]],
  [[0.2, 41.2], [0.9, 41.5], [1.7, 41.8]]
];
const cHx = [-4.17, -4.06, -3.85, -3.63, -3.3, -3.0, -2.5, -2.0, -1.5, -1.0, -0.5, 0, 0.5, 1.0, 1.5, 2.0, 2.5, 3.0, 3.3, 3.65, 3.86, 3.98, 4.08];
const cHy = [0, 12.6, 20.7, 26.7, 33.0, 37.2, 41.5, 43.6, 44.9, 45.6, 46.0, 46.1, 46.0, 45.6, 44.9, 43.7, 41.6, 37.5, 33.0, 25.5, 20.9, 14.0, 0];

// ---------------------------------------------------------------
const TICK_FONT = "14.5px 'Liberation Sans', Arial, sans-serif";
const LEG_FONT = "15px 'Liberation Sans', Arial, sans-serif";
const BOLD_FONT = "bold 18px 'DejaVu Sans', sans-serif";

function pts(list) { return list.map(p => ({ x: p[0], y: p[1] })); }
function zipPts(xs, ys) { return xs.map((x, i) => ({ x: x, y: ys[i] })); }

function lineSet(data, color, width, tension, extra) {
  return Object.assign({ data: data, borderColor: color, borderWidth: width, pointRadius: 0, tension: tension, fill: false }, extra || {});
}
function pointSet(data, style, radius, bg, border, bw) {
  return { data: data, showLine: false, pointStyle: style, pointRadius: radius, pointBackgroundColor: bg, pointBorderColor: border, pointBorderWidth: bw };
}

function txt(ctx, s, x, y, font, align, sx) {
  ctx.save();
  ctx.font = font; ctx.fillStyle = '#000'; ctx.textBaseline = 'middle'; ctx.textAlign = align;
  ctx.translate(x, y); ctx.scale(sx, 1); ctx.fillText(s, 0, 0);
  ctx.restore();
}
function fmt(v, d) { const s = v.toFixed(d); return s.replace('-', '\u2212'); }

// frame, inner ticks and tick labels
function frame(cfg) {
  return {
    id: 'frame',
    afterDatasetsDraw(chart) {
      const ctx = chart.ctx, a = chart.chartArea, xs = chart.scales.x, ys = chart.scales.y;
      ctx.save();
      ctx.strokeStyle = '#000'; ctx.lineWidth = 1;
      ctx.beginPath();
      cfg.xt.forEach(v => {
        const px = Math.round(xs.getPixelForValue(v)) + 0.5;
        const len = cfg.xMaj.includes(v) ? 6 : 4;
        ctx.moveTo(px, a.bottom); ctx.lineTo(px, a.bottom - len);
        if (cfg.top) { ctx.moveTo(px, a.top); ctx.lineTo(px, a.top + len); }
      });
      cfg.yt.forEach(v => {
        if (v > ys.max) return;
        const py = Math.round(ys.getPixelForValue(v)) + 0.5;
        const len = cfg.yMaj.includes(v) ? 6 : 4;
        ctx.moveTo(a.left, py); ctx.lineTo(a.left + len, py);
      });
      ctx.stroke();
      ctx.strokeStyle = '#666'; ctx.lineWidth = 1.5;
      ctx.beginPath(); ctx.moveTo(a.left, a.top); ctx.lineTo(a.right, a.top); ctx.lineTo(a.right, a.bottom); ctx.stroke();
      ctx.strokeStyle = '#000'; ctx.lineWidth = 2;
      ctx.beginPath(); ctx.moveTo(a.left, a.top); ctx.lineTo(a.left, a.bottom); ctx.lineTo(a.right, a.bottom); ctx.stroke();
      if (cfg.xl) cfg.xMaj.forEach(v => txt(ctx, fmt(v, 0), xs.getPixelForValue(v), a.bottom + 19, TICK_FONT, 'center', 1.2));
      cfg.yMaj.forEach(v => txt(ctx, fmt(v, cfg.yd), a.left - 6, ys.getPixelForValue(v), TICK_FONT, 'right', 1.2));
      ctx.restore();
    }
  };
}

// legend helper in page coordinates
function legend(draw) {
  return {
    id: 'leg',
    afterDraw(chart) {
      const ctx = chart.ctx;
      ctx.save();
      ctx.translate(-chart.canvas.offsetLeft, -chart.canvas.offsetTop);
      draw(ctx);
      ctx.restore();
    }
  };
}
function ring(ctx, x, y, r) {
  ctx.beginPath(); ctx.arc(x, y, r, 0, Math.PI * 2);
  ctx.fillStyle = '#fff'; ctx.fill(); ctx.lineWidth = 1; ctx.strokeStyle = '#000'; ctx.stroke();
}

function build(id, rect, yw, xh, xr, yr, datasets, cfg, leg) {
  const cv = document.getElementById(id);
  const left = rect[0] - yw, top = rect[1] - 2;
  cv.width = rect[2] - left + 2;
  cv.height = rect[3] + xh - top;
  cv.style.left = left + 'px';
  cv.style.top = top + 'px';
  const axis = (range, fit) => ({
    type: 'linear', min: range[0], max: range[1],
    grid: { display: false, drawTicks: false }, border: { display: false },
    ticks: { display: false }, afterFit: fit
  });
  return new Chart(cv, {
    type: 'line',
    data: { datasets: datasets },
    options: {
      responsive: false, animation: false, devicePixelRatio: 1,
      layout: { padding: { top: 2, right: 2, left: 0, bottom: 0 } },
      plugins: { legend: { display: false }, tooltip: { enabled: false } },
      elements: { point: { hitRadius: 0 } },
      events: [],
      scales: {
        x: axis(xr, s => { s.height = xh; }),
        y: axis(yr, s => { s.width = yw; })
      }
    },
    plugins: [frame(cfg), legend(leg)]
  });
}

const grayA = grayLeft.concat(grayRight);
const survivorPts = survivorX.map(x => ({ x: x, y: 600 }));
const survivorR = c => 2.4 + 4.2 * Math.max(0, 1 - Math.abs(c.raw.x) / 4.2);

// ---- (a) top ----
build('a1', [71, 46, 424, 498], 60, 2, [-4.42, 4.38], [0, 703],
  [pointSet(survivorPts, 'circle', survivorR, '#fff', '#000', 1)]
    .concat([pointSet(pts(extinctPts), 'circle', 1.9, '#000', '#000', 0)])
    .concat([pointSet(pts(branchPts), 'triangle', 4.6, '#bdbdbd', '#000', 1)])
    .concat(grayA.map(l => lineSet(pts(l), '#bdbdbd', 1, 0.35))),
  { xt: xMinor, xMaj: xTickLabels, xl: false, yt: tMinor, yMaj: tTickLabels, yd: 0, top: false },
  ctx => {
    ring(ctx, 91, 66, 4.5);
    txt(ctx, 't=600', 106, 66, LEG_FONT, 'left', 1.15);
    txt(ctx, 'Branching', 395, 64, LEG_FONT, 'right', 1.15);
    ctx.beginPath(); ctx.moveTo(404, 59); ctx.lineTo(409, 68); ctx.lineTo(399, 68); ctx.closePath();
    ctx.fillStyle = '#bdbdbd'; ctx.fill(); ctx.strokeStyle = '#000'; ctx.lineWidth = 1; ctx.stroke();
    txt(ctx, 'Extinction', 395, 84, LEG_FONT, 'right', 1.15);
    ctx.beginPath(); ctx.arc(404, 85, 2.2, 0, Math.PI * 2); ctx.fillStyle = '#000'; ctx.fill();
  });

// ---- (a) middle : D(x) ----
build('a2', [71, 505, 424, 650], 60, 2, [-4.42, 4.38], [-0.42, 0.86],
  [lineSet(zipPts(dPredX, dPred), '#000', 2, 0.4, { borderDash: [7, 4] }),
   lineSet(zipPts(dX, dVal), '#000', 1.3, 0.4, { fill: { target: { value: 0 }, above: '#d3d3d3', below: '#6f6f6f' } }),
   lineSet(pts([[crossX[0], -0.42], [crossX[0], 0.86]]), '#333', 1, 0, { borderDash: [2, 2] }),
   lineSet(pts([[crossX[1], -0.42], [crossX[1], 0.86]]), '#333', 1, 0, { borderDash: [2, 2] })],
  { xt: xMinor, xMaj: xTickLabels, xl: false, yt: dMinor, yMaj: dTickLabels, yd: 1, top: true },
  ctx => {
    ctx.lineWidth = 1; ctx.strokeStyle = '#333';
    ctx.fillStyle = '#d3d3d3'; ctx.fillRect(88, 521, 11, 11); ctx.strokeRect(88.5, 521.5, 11, 11);
    ctx.fillStyle = '#6f6f6f'; ctx.fillRect(88, 542, 11, 11); ctx.strokeRect(88.5, 542.5, 11, 11);
    txt(ctx, 'Source', 107, 527, "16px 'Liberation Sans', Arial, sans-serif", 'left', 1.15);
    txt(ctx, 'Sink', 107, 548, "16px 'Liberation Sans', Arial, sans-serif", 'left', 1.15);
    txt(ctx, 'Prediction', 389, 525, BOLD_FONT, 'right', 1);
    ctx.beginPath(); ctx.setLineDash([7, 4]); ctx.lineWidth = 2.5; ctx.strokeStyle = '#000';
    ctx.moveTo(395, 526); ctx.lineTo(416, 526); ctx.stroke(); ctx.setLineDash([]);
  });

// ---- (a) bottom : v_y(x) ----
build('a3', [71, 659, 424, 754], 60, 50, [-4.42, 4.38], [0, 1.42],
  [lineSet(zipPts(vX, vVal), '#000', 2, 0.4),
   lineSet(pts([[crossX[0], 0], [crossX[0], 1.42]]), '#333', 1, 0, { borderDash: [2, 2] }),
   lineSet(pts([[crossX[1], 0], [crossX[1], 1.42]]), '#333', 1, 0, { borderDash: [2, 2] }),
   lineSet(pts([[-4.42, 0.5], [crossX[1], 0.5]]), '#333', 1, 0, { borderDash: [2, 2] })],
  { xt: xMinor, xMaj: xTickLabels, xl: true, yt: vMinor, yMaj: vTickLabels, yd: 1, top: true },
  ctx => {});

// ---- (b) top : phylogeny ----
build('b1', [522, 46, 875, 498], 50, 2, [-4.43, 4.43], [0, 703],
  [pointSet(survivorPts, 'circle', survivorR, '#fff', '#000', 1)]
    .concat(lineagesB.map(l => lineSet(pts(l), '#000', 1.3, 0)))
    .concat([lineSet(pts(trunkB), '#000', 1.3, 0)])
    .concat(grayA.map(l => lineSet(pts(l), '#cfcfcf', 1.4, 0.35))),
  { xt: xMinor, xMaj: xTickLabels, xl: false, yt: tMinor, yMaj: tTickLabels, yd: 0, top: false },
  ctx => {
    ring(ctx, 543, 66, 4.5);
    txt(ctx, 't=600', 557, 66, LEG_FONT, 'left', 1.15);
  });

// ---- (b) bottom : t_d(x) ----
build('b2', [522, 505, 875, 754], 80, 50, [-4.43, 4.43], [0, 735],
  [pointSet(zipPts(tdX, tdVal), 'circle', 5, 'rgba(255,255,255,0)', '#000', 1.2),
   lineSet(zipPts(tdPredX, tdPred), '#000', 2.5, 0.4)],
  { xt: xMinor, xMaj: xTickLabels, xl: true, yt: tdMinor, yMaj: tdTickLabels, yd: 0, top: false },
  ctx => {
    txt(ctx, '(\u00d710000)', 483, 528, "13px 'Liberation Sans', Arial, sans-serif", 'center', 1.1);
    ring(ctx, 542, 526, 5);
    txt(ctx, 't=600', 557, 527, LEG_FONT, 'left', 1.15);
    txt(ctx, 'Prediction', 838, 525, BOLD_FONT, 'right', 1);
    ctx.beginPath(); ctx.lineWidth = 3; ctx.strokeStyle = '#000';
    ctx.moveTo(843, 526); ctx.lineTo(866, 526); ctx.stroke();
  });

// ---- (c) ----
const cR = c => 2.5 + 3.6 * Math.pow(Math.min(1, Math.max(0, (c.raw.y - 25) / 21)), 2);
build('c1', [956, 45, 1309, 498], 40, 32, [-4.5, 4.42], [0, 53.6],
  [pointSet(pts(cTips), 'circle', cR, '#fff', '#000', 1)]
    .concat(cLineages.map(l => lineSet(pts(l), '#000', 1.3, 0)))
    .concat([lineSet(pts(cTrunk), '#000', 1.3, 0)])
    .concat([lineSet(zipPts(cHx, cHy), '#000', 1.2, 0.4, { borderDash: [7, 5] })])
    .concat(cGray.map(l => lineSet(pts(l), '#c8c8c8', 2.2, 0.4))),
  { xt: xMinor, xMaj: xTickLabels, xl: true, yt: yMinor, yMaj: yTickLabels, yd: 0, top: false },
  ctx => {
    ring(ctx, 977, 65, 4.5);
    txt(ctx, 't=600', 991, 66, LEG_FONT, 'left', 1.15);
    txt(ctx, 'H(x)', 1277, 66, LEG_FONT, 'right', 1.15);
    ctx.beginPath(); ctx.setLineDash([6, 5]); ctx.lineWidth = 1.3; ctx.strokeStyle = '#000';
    ctx.moveTo(1284, 66); ctx.lineTo(1304, 66); ctx.stroke(); ctx.setLineDash([]);
  });
</script>
</body>
</html>
